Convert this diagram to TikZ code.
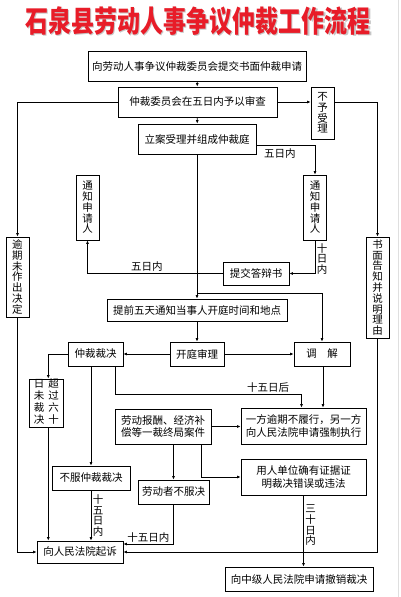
\documentclass[tikz,border=0pt]{standalone}
\usepackage{fontspec}
\setmainfont{Noto Sans CJK SC}
\usepackage{graphicx}
\usetikzlibrary{arrows.meta}
\definecolor{titlered}{RGB}{232,28,40}

\begin{document}
\begin{tikzpicture}[x=1pt,y=-1pt,
    box/.style={draw, line width=0.8pt, inner sep=0pt, align=center, font=\fontsize{10.5}{12.5}\selectfont},
    vbox/.style={box, minimum width=23pt, font=\fontsize{10.5}{10.8}\selectfont},
    arr/.style={line width=0.7pt, -{Latex[length=3.5pt,width=3pt]}},
    lbl/.style={inner sep=1.5pt, align=center, font=\fontsize{10.5}{10.8}\selectfont}]
    \useasboundingbox (0,0) rectangle (400,597);
    \draw[gray!25, line width=1pt] (398,0) -- (398,597);

    % Title with its shadow
    \node[text=gray!45, font=\fontsize{23}{23}\selectfont\bfseries] (titleshadow) at (199.5,22.5) {\scalebox{1}[1.3]{石泉县劳动人事争议仲裁工作流程}};
    \node[text=titlered, font=\fontsize{23}{23}\selectfont\bfseries] (title) at (198,21) {\scalebox{1}[1.3]{石泉县劳动人事争议仲裁工作流程}};

    % Boxes of the main flow
    \node[box, minimum width=218pt, minimum height=30pt] (apply) at (197,66) {向劳动人事争议仲裁委员会提交书面仲裁申请};
    \node[box, minimum width=159pt, minimum height=30pt] (review) at (197.5,102) {仲裁委员会在五日内予以审查};
    \node[vbox, minimum height=52pt] (reject) at (322.5,113) {不\\予\\受\\理};
    \node[box, minimum width=118pt, minimum height=30pt] (accept) at (197,139) {立案受理并组成仲裁庭};
    \node[vbox, minimum height=65pt] (notifyL) at (87.5,207.5) {通\\知\\申\\请\\人};
    \node[vbox, minimum height=65pt] (notifyR) at (315,207.5) {通\\知\\申\\请\\人};
    \node[box, minimum width=66pt, minimum height=23pt] (defence) at (256,273.5) {提交答辩书};
    \node[vbox, minimum height=80pt] (overdue) at (17.5,277) {逾\\期\\未\\作\\出\\决\\定};
    \node[vbox, minimum height=101pt] (written) at (377.5,287.5) {书\\面\\告\\知\\并\\说\\明\\理\\由};
    \node[box, minimum width=180pt, minimum height=22pt] (notice) at (197,310) {提前五天通知当事人开庭时间和地点};
    \node[box, minimum width=54pt, minimum height=24pt] (hearing) at (197,354) {开庭审理};
    \node[box, minimum width=55pt, minimum height=24pt] (award) at (95.5,354) {仲裁裁决};
    \node[box, minimum width=56pt, minimum height=24pt] (mediate) at (322,354) {调\hspace{1em}解};

    % Boxes after the award
    \node[box, minimum width=34pt, minimum height=48pt, font=\fontsize{10.5}{10.6}\selectfont] (sixty) at (46.3,403)
        {\begin{tabular}{@{}c@{\hspace{4pt}}c@{}}日&超\\未&过\\裁&六\\决&十\end{tabular}};
    \node[box, minimum width=125pt, minimum height=36pt] (enforce) at (303.5,426) {一方逾期不履行，另一方\\向人民法院申请强制执行};
    \node[box, minimum width=96pt, minimum height=35pt] (final) at (163,426.5) {劳动报酬、经济补\\偿等一裁终局案件};
    \node[box, minimum width=78pt, minimum height=24pt] (disagree) at (91,478) {不服仲裁裁决};
    \node[box, minimum width=71pt, minimum height=24pt] (worker) at (173.5,492) {劳动者不服决};
    \node[box, minimum width=125pt, minimum height=36pt] (employer) at (303.5,477) {用人单位确有证据证\\明裁决错误或违法};
    \node[box, minimum width=86pt, minimum height=22pt] (sue) at (80,552) {向人民法院起诉};
    \node[box, minimum width=148pt, minimum height=24pt] (revoke) at (299,579) {向中级人民法院申请撤销裁决};
    \coordinate (split) at (197,293);

    % Connectors at the top
    \draw[arr] (apply) -- (review);
    \draw[arr] (review.east) -- (reject.west |- review.east);
    \draw[arr] (review.west) -| (overdue.north);
    \draw[arr] (reject.east |- review.east) -| (written.north);
    \draw[arr] (review) -- (accept);
    \draw[arr] ([yshift=-6pt]accept.east) -| node[lbl, below, pos=0.2, yshift=-2pt] {五日内} (notifyR.north);
    \draw[arr] (notifyR.south) |- node[lbl, right, pos=0.28] {十\\日\\内} (defence.east);
    \draw[arr] (defence.west) -| node[lbl, above, pos=0.28] {五日内} (notifyL.south);
    \draw[arr] (accept) -- (notice);
    \draw[arr] (split) -| (mediate.north);
    \draw[arr] (notice) -- (hearing);
    \draw[arr] (hearing) -- (award);
    \draw[arr] (hearing) -- (mediate);

    % Connectors after the hearing
    \draw[arr] (award.west) -| ([xshift=2pt]sixty.north);
    \draw[arr] ([xshift=2pt]sixty.south) -- ([xshift=2pt]sixty.south |- sue.north);
    \draw[arr] (disagree.north |- award.south) -- (disagree.north);
    \draw[arr] (disagree.south) -- node[lbl, right] {十\\五\\日\\内} (disagree.south |- sue.north);
    \draw[arr] ([xshift=20pt]award.south) |- node[lbl, above, pos=0.91] {十五日后} ([xshift=-2pt,yshift=13pt]enforce.north) -- ([xshift=-2pt]enforce.north);
    \draw[arr] ([xshift=1pt]mediate.south) -- ([xshift=1pt]mediate.south |- enforce.north);
    \draw[arr] (final.east) -- (enforce.west |- final.east);
    \draw[arr] (worker.north |- final.south) -- (worker.north);
    \draw[arr] ([xshift=38pt]final.south) |- (employer.west);
    \draw[arr] (worker.south) |- node[lbl, above, pos=0.75] {十五日内} ([yshift=8pt]sue.east);
    \draw[arr] (written.south) |- (sue.east);
    \draw[arr] (overdue.south) |- (sue.west);
    \draw[arr] (employer.south) -- node[lbl, right, pos=0.42] {三\\十\\日\\内} (employer.south |- revoke.north);
\end{tikzpicture}
\end{document}
